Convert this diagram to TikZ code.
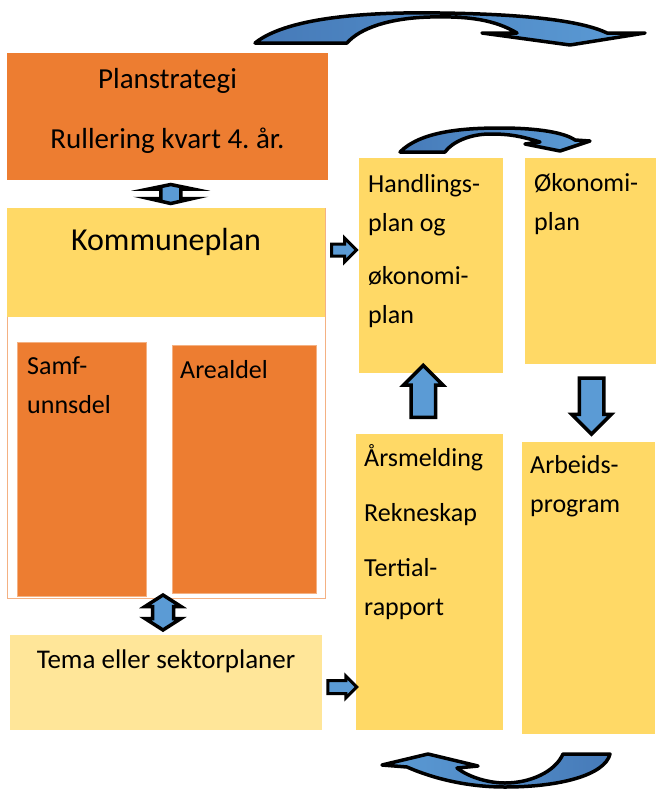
\documentclass[tikz,border=0pt]{standalone}
\usepackage{fontspec}
\setmainfont{Carlito}
\frenchspacing
\usetikzlibrary{shapes.arrows, calc, positioning}
\definecolor{planorange}{RGB}{237,125,49}
\definecolor{planyellow}{RGB}{255,217,102}
\definecolor{paleyellow}{RGB}{255,230,153}
\definecolor{edgeorange}{RGB}{244,177,131}
\definecolor{arrowblue}{RGB}{91,155,213}
\definecolor{darkblue}{RGB}{70,122,184}
\tikzset{
	box/.style={rectangle, inner sep=0pt, outer sep=0pt, anchor=north west},
	orangebox/.style={box, fill=planorange},
	yellowbox/.style={box, fill=planyellow},
	boxtext/.style={inner sep=0pt, align=left, anchor=base west, font=\fontsize{26}{39}\selectfont},
	blockarrow/.style={draw=black, fill=arrowblue, line width=3.5pt, line join=miter, inner sep=0pt, outer sep=0pt},
	uparrow/.style={blockarrow, single arrow, single arrow tip angle=90},
	curvearrow/.style={draw=black, line width=3.5pt, line join=round}
}

\begin{document}
\begin{tikzpicture}[x=1pt, y=-1pt]
        \useasboundingbox (0,0) rectangle (668,793);

        % ==================================================
        % 1. LEFT SIDE: PLANSTRATEGI AND KOMMUNEPLAN
        % ==================================================
        \node[orangebox, minimum width=321pt, minimum height=127pt] (plan) at (7,53) {};
        % (anchor = baseline of the last line)
        \node[inner sep=0pt, align=center, anchor=base, font=\fontsize{29}{60}\selectfont] (plantxt)
            at ([shift={(0,95)}]plan.north) {Planstrategi\\Rullering kvart 4. år.};

        % Outer frame and yellow head
        \node[box, draw=edgeorange, line width=0.8pt, fill=white, minimum width=318pt, minimum height=390pt] (komm) at (7,208) {};
        \node[yellowbox, minimum width=318pt, minimum height=109pt] (kommhead) at (7,208) {};
        \node[inner sep=0pt, anchor=base, font=\fontsize{32}{38}\selectfont] (kommtxt)
            at ([shift={(0,42)}]kommhead.north) {Kommuneplan};

        % The two parts
        \node[orangebox, draw=edgeorange, line width=0.6pt, minimum width=129pt, minimum height=254pt] (samf) at (17,342) {};
        \node[boxtext] (samftxt) at ([shift={(10,71)}]samf.north west) {Samf-\\unnsdel};
        \node[orangebox, draw=edgeorange, line width=0.6pt, minimum width=144pt, minimum height=248pt] (areal) at (172,345) {};
        \node[boxtext] (arealtxt) at ([shift={(8,33)}]areal.north west) {Arealdel};

        % Tema box
        \node[box, fill=paleyellow, minimum width=312pt, minimum height=95pt] (tema) at (10,635) {};
        \node[inner sep=0pt, anchor=base, font=\fontsize{27}{32}\selectfont] (tematxt)
            at ([shift={(0,33)}]tema.north) {Tema eller sektorplaner};

        % ==================================================
        % 2. RIGHT SIDE: YEARLY PLANS
        % ==================================================
        \node[yellowbox, minimum width=144pt, minimum height=215pt] (hand) at (359,158) {};
        \node[boxtext] (handtxt) at ([shift={(9,165)}]hand.north west) {Handlings-\\plan og\\[14pt]økonomi-\\plan};
        \node[yellowbox, minimum width=131pt, minimum height=206pt] (okon) at (525,158) {};
        \node[boxtext] (okontxt) at ([shift={(9,72)}]okon.north west) {Økonomi-\\plan};
        \node[yellowbox, minimum width=147pt, minimum height=296pt] (aars) at (356,434) {};
        \node[boxtext] (aarstxt) at ([shift={(8,181)}]aars.north west) {Årsmelding\\[16pt]Rekneskap\\[16pt]Tertial-\\rapport};
        \node[yellowbox, minimum width=133pt, minimum height=292pt] (arbeid) at (522,442) {};
        \node[boxtext] (arbeidtxt) at ([shift={(8,70)}]arbeid.north west) {Arbeids-\\program};

        % ==================================================
        % 3. BLOCK ARROWS BETWEEN THE BOXES
        % ==================================================
        % double arrows (drawn round a coordinate)
        \coordinate (pk) at ($(plan.south)!0.5!(komm.north)+(4,0)$);
        \draw[blockarrow, shift={(pk)}] (0,-9.5) -- (22,-5) -- (10,-5) -- (10,4.5) -- (22,4.5) -- (0,9.5)
            -- (-22,4.5) -- (-10,4.5) -- (-10,-5) -- (-22,-5) -- cycle;
        \coordinate (kt) at ($(komm.south)!0.5!(tema.north)+(-3,-4)$);
        \draw[blockarrow, shift={(kt)}] (0,-17.5) -- (18,-6) -- (10.5,-6) -- (10.5,6) -- (18,6) -- (0,17.5)
            -- (-18,6) -- (-10.5,6) -- (-10.5,-6) -- (-18,-6) -- cycle;

        % single arrows
        \node[uparrow, rotate=90, minimum height=52pt, single arrow head extend=7.5pt, inner sep=10.5pt] (ah)
            at ($(aars.north)!0.5!(hand.south)+(-7,-6)$) {};
        \node[uparrow, rotate=-90, minimum height=56pt, single arrow head extend=7.5pt, inner sep=10.5pt] (oa)
            at ($(okon.south)!0.5!(arbeid.north)+(2,-3)$) {};
        \node[uparrow, line width=3pt, minimum height=25pt, single arrow head extend=6pt, inner sep=4.5pt] (kh)
            at ($(kommhead.east)!0.5!(hand.west)+(-1,-14)$) {};
        \node[uparrow, line width=3pt, minimum height=29pt, single arrow head extend=4.5pt, inner sep=5pt] (ta)
            at ([xshift=17pt, yshift=-4.5pt]tema.east) {};

        % ==================================================
        % 4. CURVED ARROWS (THE YEARLY CYCLE)
        % ==================================================
        % Big arrow on top
        \draw[curvearrow, left color=darkblue, right color=arrowblue]
            (255,43) .. controls (290,15) and (380,12) .. (440,13)
            .. controls (520,14) and (580,20) .. (607,33)
            -- (645,33) -- (570,45) -- (482,33) -- (517,33)
            .. controls (495,20) and (470,16) .. (430,17)
            .. controls (390,18) and (360,28) .. (347,43) -- cycle;

        % Small arrow above the plans
        \draw[curvearrow, left color=darkblue, right color=arrowblue]
            (400,152) .. controls (420,132) and (460,128) .. (500,128)
            .. controls (540,128) and (565,133) .. (575,140)
            -- (590,141) -- (560,151) -- (525,144) -- (540,142)
            .. controls (520,136) and (510,134) .. (490,134)
            .. controls (470,134) and (452,142) .. (445,152) -- cycle;

        % Arrow at the bottom
        \draw[curvearrow, left color=arrowblue, right color=darkblue]
            (563,754) -- (610,754)
            .. controls (605,775) and (560,787) .. (505,787)
            .. controls (460,787) and (425,775) .. (407,767)
            -- (382,765) -- (428,754) -- (478,766) -- (457,768)
            .. controls (470,778) and (490,783) .. (505,783)
            .. controls (530,783) and (555,772) .. (563,754) -- cycle;

    \end{tikzpicture}
\end{document}
